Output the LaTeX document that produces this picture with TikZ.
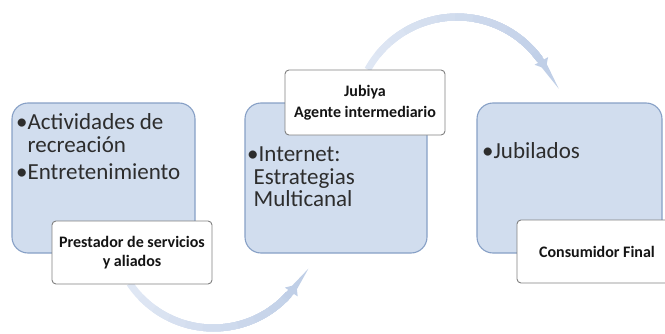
\documentclass[tikz,border=0pt]{standalone}
\usepackage{fontspec}
\setmainfont{Carlito}
\usetikzlibrary{arrows.meta}
\definecolor{boxfill}{RGB}{209,221,238}
\definecolor{boxline}{RGB}{135,160,198}
\definecolor{arcA}{RGB}{234,239,248}
\definecolor{arcB}{RGB}{192,207,231}
\definecolor{txt}{RGB}{45,45,45}
\definecolor{wline}{RGB}{128,128,128}
\tikzset{
  bluebox/.style={draw=boxline, fill=boxfill, line width=1.1pt, rounded corners=16pt, inner sep=0pt},
  labelbox/.style={draw=wline, fill=white, line width=0.9pt, rounded corners=4pt, inner sep=0pt,
    minimum width=160pt, minimum height=63pt, align=center, text=black!92,
    font=\bfseries\fontsize{16}{19}\selectfont},
  bodytext/.style={inner sep=0pt, text=txt, text width=180pt, align=left, anchor=base west,
    font=\fontsize{23}{23.4}\selectfont},
  flowarc/.style={line width=7pt},
}
\begin{document}
\begin{tikzpicture}[x=1pt,y=1pt]
\useasboundingbox (0,0) rectangle (665,333);
\clip (0,0) rectangle (665,333);
\coordinate (tc) at (457,214);
\coordinate (bc) at (213.5,106);
% top arc (box 2 -> box 3), gradient by layers
\foreach \k in {0,...,11} {
  \pgfmathsetmacro\a{151-\k*10}
  \pgfmathsetmacro\p{25+\k*6.5}
  \draw[flowarc, color=arcB!\p!arcA] ([shift={(\a:102)}]tc) arc[start angle=\a, end angle=36, radius=102];
}
\draw[flowarc, arcB, -{Triangle[width=15pt,length=9pt]}] ([shift={(38:102)}]tc) arc[start angle=38, end angle=29.5, radius=102];
% bottom arc (box 1 -> box 2)
\foreach \k in {0,...,10} {
  \pgfmathsetmacro\a{214+\k*10}
  \pgfmathsetmacro\p{25+\k*7}
  \draw[flowarc, color=arcB!\p!arcA] ([shift={(\a:101)}]bc) arc[start angle=\a, end angle=318, radius=101];
}
\draw[flowarc, arcB, -{Triangle[width=15pt,length=9pt]}] ([shift={(316:101)}]bc) arc[start angle=316, end angle=325.2, radius=101];
% blue boxes
\node[bluebox, minimum width=183pt, minimum height=150pt] (b1) at (103.5,155) {};
\node[bluebox, minimum width=182pt, minimum height=150pt] (b2) at (336,155) {};
\node[bluebox, minimum width=185pt, minimum height=150pt] (b3) at (569.5,155) {};
% texts
\node[bodytext] (t1) at (16,204) {\spaceskip=0.22em\relax •Actividades de\\\hphantom{•}recreación\\[3.2pt]•Entretenimiento};
\node[bodytext, font=\fontsize{23}{22.7}\selectfont] (t2) at (247,171.5) {•Internet:\\\hspace*{6.5pt}Estrategias\\\hspace*{6.5pt}Multicanal};
\node[bodytext] (t3) at (482,175) {•Jubilados};
% label boxes
\node[labelbox] (w1) at (132,80.5) {Prestador de servicios\\y aliados};
\node[labelbox, font=\bfseries\fontsize{16}{21.5}\selectfont, minimum height=65pt] (w2) at (365,230.5) {Jubiya\\Agente intermediario};
\node[labelbox] (w3) at (597,81.5) {Consumidor Final};
\end{tikzpicture}
\end{document}
